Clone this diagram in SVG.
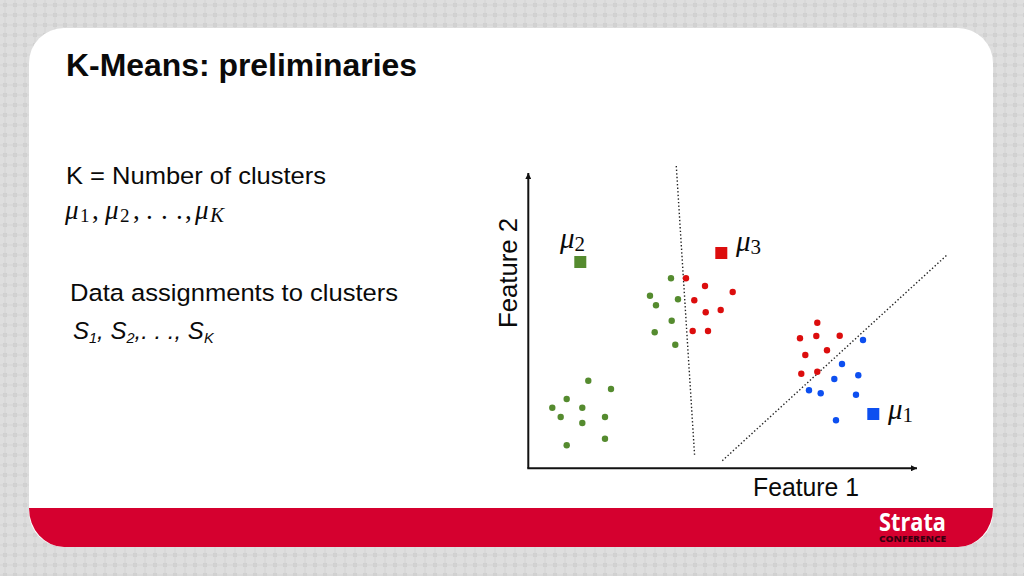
<svg xmlns="http://www.w3.org/2000/svg" width="1024" height="576" viewBox="0 0 1024 576">
<style>
text{font-family:"Liberation Sans",Arial,sans-serif;fill:#0a0a0a}
.t{font-size:24.5px}
.ax{font-size:25px}
.m{font-family:"Liberation Serif",serif;font-style:italic;fill:#0a0a0a}
.n{font-family:"Liberation Serif",serif;font-style:normal;fill:#0a0a0a}
.g{fill:#558b2f}.r{fill:#dc0d0d}.b{fill:#0d4ff0}
.axis{stroke:#111;stroke-width:2;fill:none;marker-end:url(#arr)}
.sep{stroke:#222;stroke-width:1.4;stroke-dasharray:1.4 2.2;fill:none}
</style>
<defs>
<marker id="arr" markerUnits="userSpaceOnUse" markerWidth="7" markerHeight="6" refX="6" refY="3" orient="auto"><path d="M0 0L6 3L0 6Z" fill="#111"/></marker>
<pattern id="bg" width="10" height="10" patternUnits="userSpaceOnUse">
<rect width="10" height="10" fill="#dedede"/>
<rect x="3" y="3" width="4" height="4" fill="#cfcfcf"/>
<rect x="0" y="4" width="10" height="2" fill="#d3d3d3" opacity=".5"/>
<rect x="4" y="0" width="2" height="10" fill="#d3d3d3" opacity=".5"/>
</pattern>
</defs>
<rect width="1024" height="576" fill="url(#bg)"/>
<g id="panel">
<rect x="29" y="28" width="964" height="519" rx="35" ry="35" fill="#fff"/>
<path d="M29 508H993A35 39 0 0 1 958 547H64A35 39 0 0 1 29 508Z" fill="#d5002f"/>
</g>
<g id="logo">
<text x="879" y="531" font-size="25" font-weight="700" textLength="67" lengthAdjust="spacingAndGlyphs" style="font-family:'Open Sans',sans-serif;fill:#fff">Strata</text>
<text x="879" y="542" font-size="9.5" font-weight="800" textLength="67" lengthAdjust="spacingAndGlyphs" style="font-family:'Open Sans',sans-serif;fill:#3a0010">CONFERENCE</text>
</g>
<g id="title"><text x="66" y="76" font-size="32" font-weight="700" textLength="351" lengthAdjust="spacingAndGlyphs">K-Means: preliminaries</text></g>
<g id="left-text">
<text class="t" x="66" y="184" textLength="260" lengthAdjust="spacingAndGlyphs">K = Number of clusters</text>
<text y="219" font-size="27" class="m"><tspan x="65">μ</tspan><tspan class="n" x="80" font-size="19" dy="3">1</tspan><tspan class="n" x="92" dy="-3">,</tspan><tspan x="105">μ</tspan><tspan class="n" x="120" font-size="19" dy="3">2</tspan><tspan class="n" x="133" dy="-3">,</tspan><tspan class="n" x="146">.</tspan><tspan class="n" x="161">.</tspan><tspan class="n" x="176">.</tspan><tspan class="n" x="185">,</tspan><tspan x="195">μ</tspan><tspan x="210" font-size="21" dy="3">K</tspan></text>
<text class="t" x="70" y="301" textLength="328" lengthAdjust="spacingAndGlyphs">Data assignments to clusters</text>
<text x="73" y="339" font-size="24" font-style="italic">S<tspan font-size="14.5" dy="4">1</tspan><tspan dy="-4">, S</tspan><tspan font-size="14.5" dy="4">2</tspan><tspan dy="-4">,. . ., S</tspan><tspan font-size="14.5" dy="4">K</tspan></text>
</g>
<g id="connectors">
<path class="axis" d="M528.3 468.3V173"/>
<path class="axis" d="M527.3 468.3H917"/>
<path class="sep" d="M676.3 166L694.7 457"/>
<path class="sep" d="M722.3 460.7L947.3 254.7"/>
</g>
<g id="axis-labels">
<text class="ax" x="753" y="496" textLength="106" lengthAdjust="spacingAndGlyphs">Feature 1</text>
<text class="ax" transform="translate(517 328) rotate(-90)" textLength="110" lengthAdjust="spacingAndGlyphs">Feature 2</text>
</g>
<g id="centroid-2"><rect class="g" x="574.3" y="256" width="12" height="12"/><text class="m" x="560" y="248" font-size="29">μ<tspan class="n" font-size="21" dy="3">2</tspan></text></g>
<g id="centroid-3"><rect class="r" x="715.3" y="247" width="12" height="12"/><text class="m" x="736" y="251" font-size="29">μ<tspan class="n" font-size="21" dy="3">3</tspan></text></g>
<g id="centroid-1"><rect class="b" x="867.3" y="408" width="12" height="12"/><text class="m" x="888" y="419" font-size="29">μ<tspan class="n" font-size="21" dy="3">1</tspan></text></g>
<g id="points-green" class="g">
<circle cx="671" cy="278.3" r="3.2"/><circle cx="650" cy="295.7" r="3.2"/><circle cx="656" cy="305.3" r="3.2"/><circle cx="678" cy="299.3" r="3.2"/><circle cx="671.7" cy="320.7" r="3.2"/><circle cx="654.7" cy="332.3" r="3.2"/><circle cx="675.3" cy="344.7" r="3.2"/>
<circle cx="588.3" cy="380.7" r="3.2"/><circle cx="611" cy="389" r="3.2"/><circle cx="566.7" cy="399" r="3.2"/><circle cx="552.3" cy="407.7" r="3.2"/><circle cx="582.3" cy="407.7" r="3.2"/><circle cx="560.7" cy="417" r="3.2"/><circle cx="605" cy="417" r="3.2"/><circle cx="582.3" cy="423" r="3.2"/><circle cx="605" cy="438.7" r="3.2"/><circle cx="566.7" cy="445.3" r="3.2"/>
</g>
<g id="points-red" class="r">
<circle cx="686" cy="278.3" r="3.2"/><circle cx="705" cy="286" r="3.2"/><circle cx="732.7" cy="292" r="3.2"/><circle cx="694.3" cy="300.3" r="3.2"/><circle cx="705.7" cy="312.3" r="3.2"/><circle cx="720.7" cy="310" r="3.2"/><circle cx="692.7" cy="331" r="3.2"/><circle cx="708" cy="331" r="3.2"/>
<circle cx="817.3" cy="322.7" r="3.2"/><circle cx="800" cy="338.3" r="3.2"/><circle cx="816.3" cy="336" r="3.2"/><circle cx="839.7" cy="335.7" r="3.2"/><circle cx="827" cy="350.3" r="3.2"/><circle cx="805.3" cy="355" r="3.2"/><circle cx="801.3" cy="373.7" r="3.2"/><circle cx="817.3" cy="371.7" r="3.2"/>
</g>
<g id="points-blue" class="b">
<circle cx="863" cy="340" r="3.2"/><circle cx="842" cy="364" r="3.2"/><circle cx="858.3" cy="375.3" r="3.2"/><circle cx="834.3" cy="379" r="3.2"/><circle cx="809" cy="390.3" r="3.2"/><circle cx="820.7" cy="393.3" r="3.2"/><circle cx="856" cy="394.7" r="3.2"/><circle cx="836" cy="420.3" r="3.2"/>
</g>
</svg>
